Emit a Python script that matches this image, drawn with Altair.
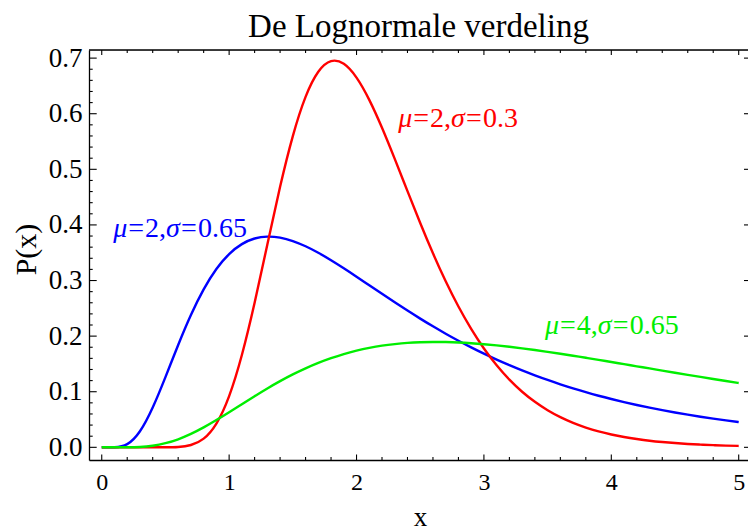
import altair as alt
import pandas as pd

# ---------------- data ----------------
x_vals = [0.0, 0.1, 0.2, 0.3, 0.4, 0.5, 0.6, 0.7, 0.8, 0.9,
          1.0, 1.1, 1.2, 1.3, 1.4, 1.5, 1.6, 1.7, 1.8, 1.9,
          2.0, 2.1, 2.2, 2.3, 2.4, 2.5, 2.6, 2.7, 2.8, 2.9,
          3.0, 3.1, 3.2, 3.3, 3.4, 3.5, 3.6, 3.7, 3.8, 3.9,
          4.0, 4.1, 4.2, 4.3, 4.4, 4.5, 4.6, 4.7, 4.8, 4.9, 5.0]

red_vals = [0, 0, 0, 0, 0, 0.0001, 0.0007, 0.0042, 0.0157, 0.0428,
            0.0922, 0.1660, 0.2600, 0.3648, 0.4685, 0.5598, 0.6303, 0.6755, 0.6946, 0.6897,
            0.6649, 0.6249, 0.5747, 0.5187, 0.4607, 0.4034, 0.3489, 0.2986, 0.2532, 0.2130,
            0.1778, 0.1476, 0.1218, 0.1000, 0.0818, 0.0667, 0.0542, 0.0439, 0.0355, 0.0286,
            0.0230, 0.0185, 0.0149, 0.0119, 0.0096, 0.0077, 0.0061, 0.0049, 0.0039, 0.0031, 0.0025]

blue_vals = [0, 0.0001, 0.0058, 0.0289, 0.0716, 0.1263, 0.1840, 0.2379, 0.2840, 0.3207,
             0.3476, 0.3655, 0.3756, 0.3790, 0.3771, 0.3710, 0.3616, 0.3499, 0.3365, 0.3220,
             0.3069, 0.2914, 0.2760, 0.2608, 0.2459, 0.2315, 0.2176, 0.2043, 0.1917, 0.1797,
             0.1684, 0.1577, 0.1477, 0.1382, 0.1294, 0.1211, 0.1133, 0.1060, 0.0992, 0.0928,
             0.0869, 0.0814, 0.0762, 0.0713, 0.0668, 0.0626, 0.0587, 0.0550, 0.0516, 0.0484, 0.0454]

green_vals = [0, 0, 0.0001, 0.0007, 0.0029, 0.0074, 0.0145, 0.0241, 0.0358, 0.0490,
              0.0631, 0.0776, 0.0920, 0.1059, 0.1190, 0.1311, 0.1420, 0.1518, 0.1603, 0.1677,
              0.1738, 0.1788, 0.1828, 0.1857, 0.1878, 0.1890, 0.1895, 0.1893, 0.1886, 0.1873,
              0.1855, 0.1833, 0.1808, 0.1780, 0.1750, 0.1717, 0.1683, 0.1647, 0.1610, 0.1573,
              0.1534, 0.1496, 0.1457, 0.1419, 0.1380, 0.1342, 0.1304, 0.1266, 0.1229, 0.1193, 0.1157]

# drawing order: blue, red, green (green on top)
series_names = ["blue", "red", "green"]
series_colors = ["#0000ff", "#ff0000", "#00ee00"]

# curve labels: (mu value, sigma value, colour)
label_mu = ["2", "2", "4"]
label_sigma = ["0.3", "0.65", "0.65"]
label_colors = ["#ff0000", "#0000ff", "#00ee00"]

x_major = [0, 1, 2, 3, 4, 5]
x_minor = [0.2, 0.4, 0.6, 0.8, 1.2, 1.4, 1.6, 1.8, 2.2, 2.4, 2.6, 2.8,
           3.2, 3.4, 3.6, 3.8, 4.2, 4.4, 4.6, 4.8]
y_major = [0.0, 0.1, 0.2, 0.3, 0.4, 0.5, 0.6, 0.7]
y_minor = [0.02, 0.04, 0.06, 0.08, 0.12, 0.14, 0.16, 0.18, 0.22, 0.24, 0.26, 0.28,
           0.32, 0.34, 0.36, 0.38, 0.42, 0.44, 0.46, 0.48, 0.52, 0.54, 0.56, 0.58,
           0.62, 0.64, 0.66, 0.68]

# ---------------- layout ----------------
W, H = 659, 410
FONT = "Liberation Serif"
LFS = 28  # curve label font size

rows = []
for name, vals in zip(["red", "blue", "green"], [red_vals, blue_vals, green_vals]):
    for xv, yv in zip(x_vals, vals):
        rows.append({"x": xv, "P": yv, "series": name})
df = pd.DataFrame(rows)

xscale = alt.Scale(domain=[-0.1, 5.073], nice=False, zero=False)
yscale = alt.Scale(domain=[-0.0228, 0.7146], nice=False, zero=False)

xaxis = alt.Axis(values=x_major, format="d", ticks=False, tickSize=0, grid=False,
                 domainColor="black", domainWidth=1.3,
                 labelFont=FONT, labelFontSize=24, labelColor="black",
                 labelBaseline="alphabetic", labelPadding=29, labelFlush=False,
                 title="x", titleFont=FONT, titleFontSize=27, titleFontWeight="normal",
                 titleColor="black", titleBaseline="alphabetic", titleX=331, titleY=65)
yaxis = alt.Axis(values=y_major, format=".1f", ticks=False, tickSize=0, grid=False,
                 domainColor="black", domainWidth=1.3,
                 labelFont=FONT, labelFontSize=27, labelColor="black",
                 labelPadding=7, labelFlush=False,
                 title="P(x)", titleFont=FONT, titleFontSize=30, titleFontWeight="normal",
                 titleColor="black", titleBaseline="alphabetic", titleAngle=270,
                 titleX=-54, titleY=199)

base = alt.Chart(df)

lines = []
for name, col in zip(series_names, series_colors):
    lines.append(
        base.transform_filter(alt.datum.series == name)
        .mark_line(color=col, strokeWidth=2.4, interpolate="natural")
        .encode(x=alt.X("x:Q", scale=xscale, axis=xaxis),
                y=alt.Y("P:Q", scale=yscale, axis=yaxis))
    )

xmaj = pd.DataFrame({"t": x_major})
xmin = pd.DataFrame({"t": x_minor})
ymaj = pd.DataFrame({"t": y_major})
ymin = pd.DataFrame({"t": y_minor})
one = pd.DataFrame({"k": [0]})

def xticks(data, y0, y1):
    return alt.Chart(data).mark_rule(color="black", strokeWidth=1.1).encode(
        x=alt.X("t:Q", scale=xscale, axis=xaxis), y=alt.value(y0), y2=alt.value(y1))

def yticks(data, x0, x1):
    return alt.Chart(data).mark_rule(color="black", strokeWidth=1.1).encode(
        y=alt.Y("t:Q", scale=yscale, axis=yaxis), x=alt.value(x0), x2=alt.value(x1))

ticks = [
    xticks(xmaj, H, H - 5.5), xticks(xmin, H, H - 3),
    xticks(xmaj, 0, 5), xticks(xmin, 0, 3),
    yticks(ymaj, 0, 7.7), yticks(ymin, 0, 3.7),
    yticks(ymaj, W - 4, W),
]

top_line = alt.Chart(one).mark_rule(color="black", strokeWidth=1.3).encode(
    x=alt.value(0), x2=alt.value(W), y=alt.value(0))

# approximate advance widths (em) of Liberation Serif glyphs
EM = {"=": 0.564, ",": 0.25, ".": 0.25, "μ": 0.5, "σ": 0.5}
EQ_PAD = 1.0  # extra px around "=" (Mathematica spacing)

def text_w(s):
    return sum(EM.get(ch, 0.5) for ch in s) * LFS

def label(mu, sigma, col, xv, yv):
    parts = [("μ", "italic", 0), ("=", "normal", EQ_PAD), (mu + ",", "normal", 0),
             ("σ", "italic", 0), ("=", "normal", EQ_PAD), (sigma, "normal", 0)]
    layers = []
    dx = 0.0
    for txt, style, pad in parts:
        dx += pad
        layers.append(alt.Chart(one).mark_text(
            text=txt, font=FONT, fontSize=LFS, fontStyle=style, color=col,
            align="left", baseline="alphabetic", dx=dx
        ).encode(x=alt.datum(xv), y=alt.datum(yv)))
        dx += text_w(txt) + pad
    return layers

label_pos = [(2.328, 0.5766), (0.091, 0.3788), (3.48, 0.2032)]
labels = []
for mu, sg, col, (lx, ly) in zip(label_mu, label_sigma, label_colors, label_pos):
    labels += label(mu, sg, col, lx, ly)

chart = alt.layer(*lines, *ticks, top_line, *labels).properties(
    width=W, height=H,
    title=alt.TitleParams("De Lognormale verdeling", font=FONT, fontSize=33,
                          fontWeight="normal", color="black", anchor="middle", offset=0),
    autosize=alt.AutoSizeParams(type="none"),
    padding={"left": 89, "top": 50, "right": 0, "bottom": 68},
).configure_view(stroke=None).configure(background="white")

chart.save("out.html", embed_options={"renderer": "svg", "actions": False})
